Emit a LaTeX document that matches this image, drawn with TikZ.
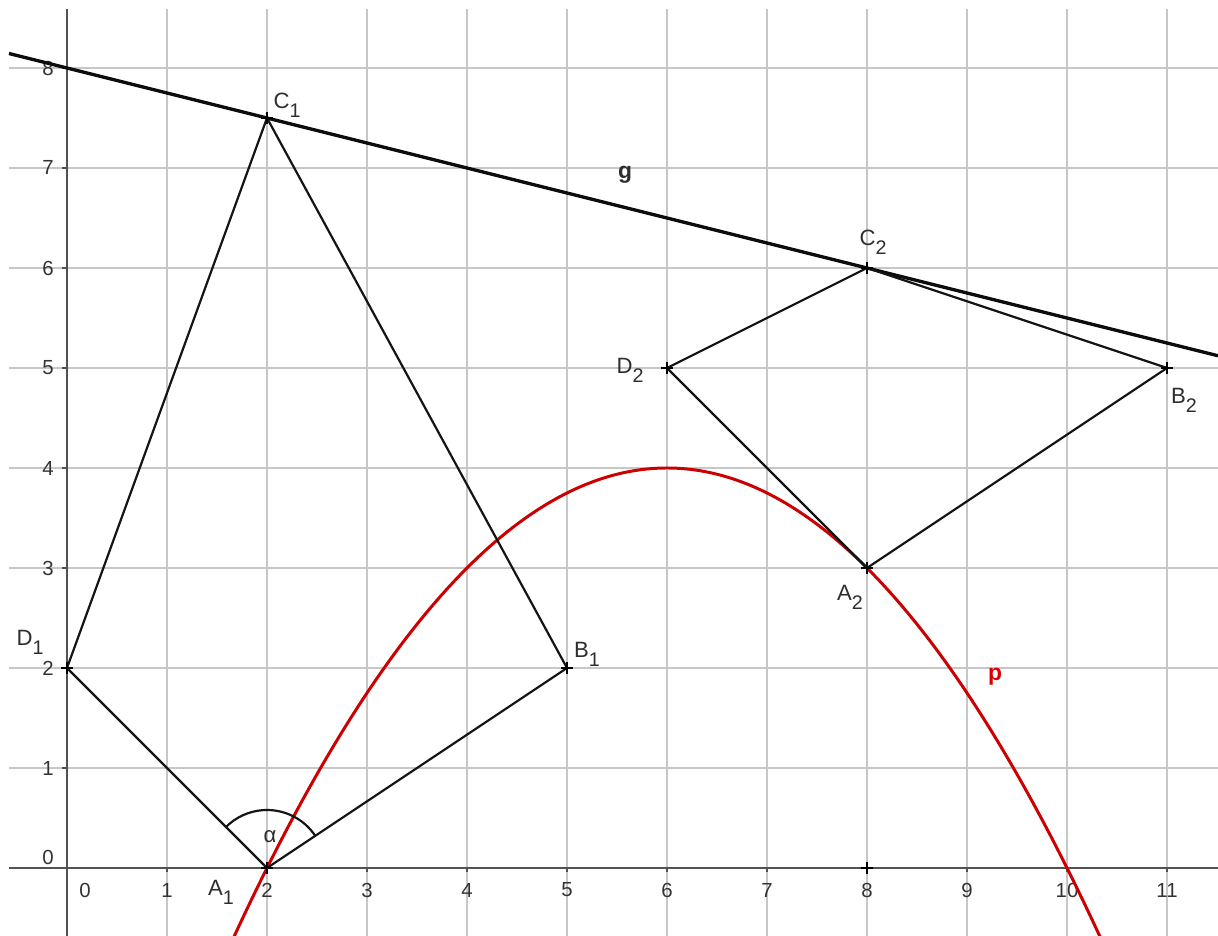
\documentclass[tikz,border=0pt]{standalone}
\usepackage{fontspec}
\setmainfont{Liberation Sans}
\newcommand{\ptlab}[2]{#1\raisebox{-2.6pt}{\fontsize{5.6}{6}\selectfont #2}}
\begin{document}
\begin{tikzpicture}[x=1cm,y=1cm,
  gridl/.style={draw=black!22, line width=0.5pt},
  axisl/.style={draw=black!68, line width=0.65pt},
  seg/.style={draw=black!92, line width=0.62pt},
  gline/.style={draw=black!95, line width=0.95pt},
  parab/.style={draw=red!80!black, line width=0.85pt},
  crossm/.style={draw=black, line width=0.7pt},
  lab/.style={text=black!82, font=\fontsize{6.3}{7}\selectfont, inner sep=0pt},
  tlab/.style={text=black!80, font=\fontsize{5.8}{6.5}\selectfont, inner sep=0pt},
]
\useasboundingbox (-0.67,-0.68) rectangle (11.51,8.68);
\fill[white] (-0.67,-0.68) rectangle (11.51,8.68);
\begin{scope}
\clip (-0.67,-0.68) rectangle (11.51,8.68);
% grid
\foreach \i in {1,...,11} \draw[gridl] (\i,-0.68) -- (\i,8.59);
\foreach \j in {1,...,8} \draw[gridl] (-0.58,\j) -- (11.51,\j);
% axes
\draw[axisl] (-0.58,0) -- (11.51,0);
\draw[axisl] (0,-0.68) -- (0,8.59);
\foreach \i in {1,...,11} \draw[axisl] (\i,0) -- (\i,-0.045);
\foreach \j in {1,...,8} \draw[axisl] (0,\j) -- (-0.045,\j);
% tick labels
\node[tlab] (tx0) at (0.18,-0.22) {0};
\foreach \i in {1,...,11} \node[tlab] (tx\i) at (\i,-0.22) {\i};
\node[tlab] (ty0) at (-0.19,0.11) {0};
\foreach \j in {1,...,8} \node[tlab] (ty\j) at (-0.19,\j) {\j};
% points
\coordinate (A1) at (2,0);
\coordinate (B1) at (5,2);
\coordinate (C1) at (2,7.5);
\coordinate (D1) at (0,2);
\coordinate (A2) at (8,3);
\coordinate (B2) at (11,5);
\coordinate (C2) at (8,6);
\coordinate (D2) at (6,5);
\coordinate (P8) at (8,0);
\coordinate (gL) at (-0.58,8.145);
\coordinate (gR) at (11.51,5.1225);
% parabola
\draw[parab] plot[domain=1.55:10.45, samples=120, smooth] (\x, {4-(\x-6)*(\x-6)/4});
% line g
\draw[gline] (gL) -- (gR);
% quadrilaterals
\draw[seg] (A1) -- (B1) -- (C1) -- (D1) -- cycle;
\draw[seg] (A2) -- (B2) -- (C2) -- (D2) -- cycle;
% angle arc
\draw[seg] ([shift={(33.69:0.58)}]A1) arc[start angle=33.69, end angle=135, radius=0.58];
\node[lab] (alpha) at (2.03,0.31) {α};
% crosses
\foreach \p in {A1,B1,C1,D1,A2,B2,C2,D2,P8}
  \draw[crossm] (\p) +(-0.06,0) -- +(0.06,0) (\p) +(0,-0.06) -- +(0,0.06);
% point labels
\node[lab] (lA1) at (1.54,-0.24) {\ptlab{A}{1}};
\node[lab] (lB1) at (5.20,2.14) {\ptlab{B}{1}};
\node[lab] (lC1) at (2.20,7.63) {\ptlab{C}{1}};
\node[lab] (lD1) at (-0.37,2.26) {\ptlab{D}{1}};
\node[lab] (lA2) at (7.83,2.71) {\ptlab{A}{2}};
\node[lab] (lB2) at (11.17,4.68) {\ptlab{B}{2}};
\node[lab] (lC2) at (8.06,6.26) {\ptlab{C}{2}};
\node[lab] (lD2) at (5.63,4.98) {\ptlab{D}{2}};
\node[lab, font=\fontsize{6.5}{7}\selectfont\bfseries] (lg) at (5.58,6.93) {g};
\node[lab, text=red!85!black, font=\fontsize{6.5}{7}\selectfont\bfseries] (lp) at (9.28,1.91) {p};
\end{scope}
\end{tikzpicture}
\end{document}
